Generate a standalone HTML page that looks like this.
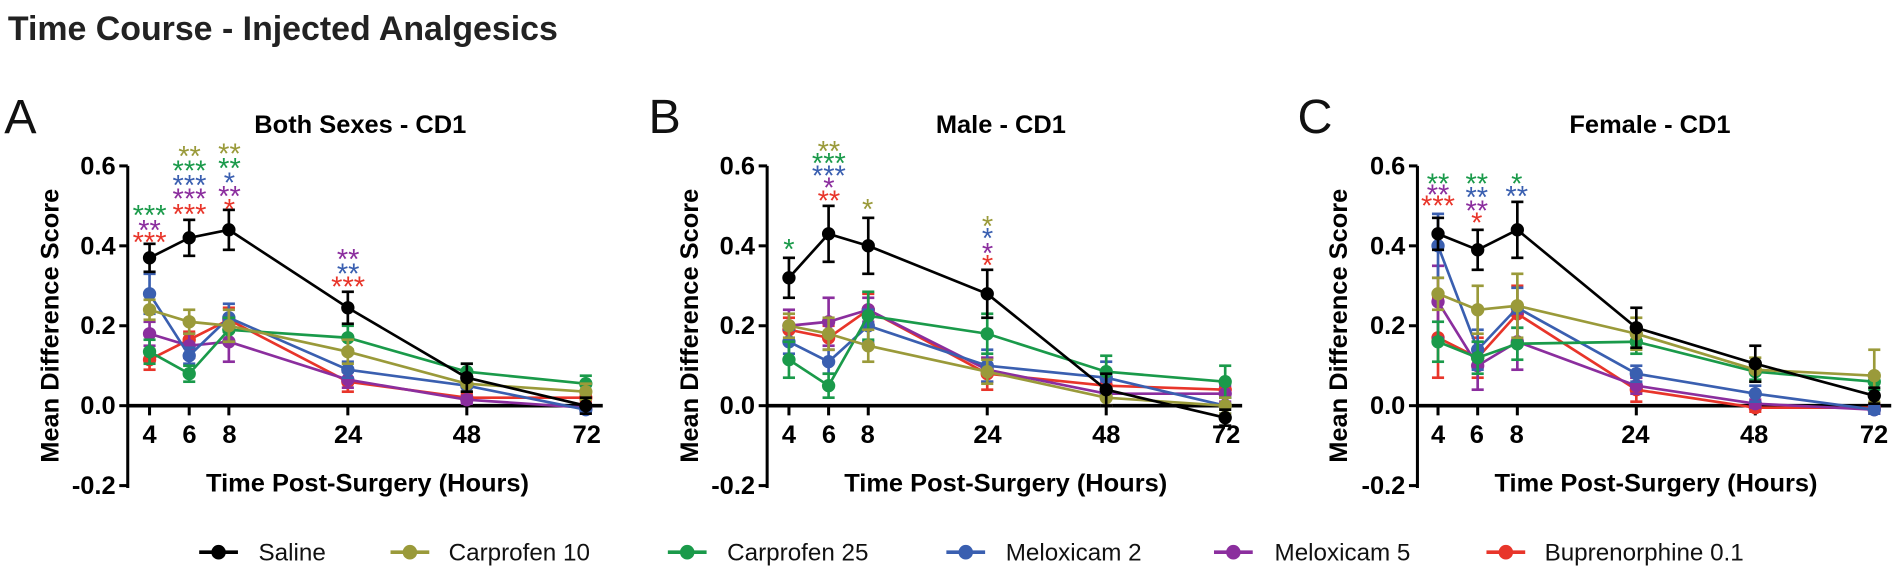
<!DOCTYPE html>
<html><head><meta charset="utf-8"><style>
body{margin:0;background:#fff;width:1900px;height:574px;overflow:hidden}
svg{display:block;font-family:"Liberation Sans",sans-serif}
.t{font-weight:bold;font-size:21px}
.st{font-size:24px;text-anchor:middle;letter-spacing:0px}
</style></head><body>
<svg id="s" width="1900" height="574" viewBox="0 0 1568 474">
<text x="6" y="33" font-size="28" font-weight="bold" fill="#222">Time Course - Injected Analgesics</text>
<text x="3" y="110" font-size="40" fill="#111">A</text>
<text x="535" y="110" font-size="40" fill="#111">B</text>
<text x="1071" y="110" font-size="40" fill="#111">C</text>
<text x="297" y="110" class="t" text-anchor="middle">Both Sexes - CD1</text>
<text x="826" y="110" class="t" text-anchor="middle">Male - CD1</text>
<text x="1362" y="110" class="t" text-anchor="middle">Female - CD1</text>
<g id="axes"></g>
<g id="ser"></g>
<g class="t" text-anchor="middle">
<text transform="translate(48,269) rotate(-90)">Mean Difference Score</text>
<text transform="translate(576,269) rotate(-90)">Mean Difference Score</text>
<text transform="translate(1112,269) rotate(-90)">Mean Difference Score</text>
<text x="303" y="406">Time Post-Surgery (Hours)</text>
<text x="830" y="406">Time Post-Surgery (Hours)</text>
<text x="1367" y="406">Time Post-Surgery (Hours)</text>
</g>
<g class="t" text-anchor="end">
<text x="95" y="144">0.6</text><text x="95" y="210">0.4</text><text x="95" y="276">0.2</text><text x="95" y="342">0.0</text><text x="95" y="408">-0.2</text>
<text x="623" y="144">0.6</text><text x="623" y="210">0.4</text><text x="623" y="276">0.2</text><text x="623" y="342">0.0</text><text x="623" y="408">-0.2</text>
<text x="1160" y="144">0.6</text><text x="1160" y="210">0.4</text><text x="1160" y="276">0.2</text><text x="1160" y="342">0.0</text><text x="1160" y="408">-0.2</text>
</g>
<g class="t" text-anchor="middle">
<text x="123" y="366">4</text><text x="156" y="366">6</text><text x="189" y="366">8</text><text x="287" y="366">24</text><text x="385" y="366">48</text><text x="484" y="366">72</text>
<text x="651" y="366">4</text><text x="684" y="366">6</text><text x="716" y="366">8</text><text x="815" y="366">24</text><text x="913" y="366">48</text><text x="1012" y="366">72</text>
<text x="1187" y="366">4</text><text x="1219" y="366">6</text><text x="1252" y="366">8</text><text x="1350" y="366">24</text><text x="1448" y="366">48</text><text x="1547" y="366">72</text>
</g>
<g class="st">
<text x="123" y="186" fill="#1a9a4a">***</text><text x="123" y="198" fill="#8b2e9e">**</text><text x="123" y="208" fill="#e8352a">***</text>
<text x="156" y="137" fill="#9a9a3a">**</text><text x="156" y="149" fill="#1a9a4a">***</text><text x="156" y="161" fill="#3a5fb0">***</text><text x="156" y="172" fill="#8b2e9e">***</text><text x="156" y="185" fill="#e8352a">***</text>
<text x="189" y="135" fill="#9a9a3a">**</text><text x="189" y="147" fill="#1a9a4a">**</text><text x="189" y="159" fill="#3a5fb0">*</text><text x="189" y="170" fill="#8b2e9e">**</text><text x="189" y="181" fill="#e8352a">*</text>
<text x="287" y="222" fill="#8b2e9e">**</text><text x="287" y="234" fill="#3a5fb0">**</text><text x="287" y="245" fill="#e8352a">***</text>
<text x="651" y="214" fill="#1a9a4a">*</text>
<text x="684" y="133" fill="#9a9a3a">**</text><text x="684" y="143" fill="#1a9a4a">***</text><text x="684" y="153" fill="#3a5fb0">***</text><text x="684" y="163" fill="#8b2e9e">*</text><text x="684" y="174" fill="#e8352a">**</text>
<text x="716" y="181" fill="#9a9a3a">*</text>
<text x="815" y="195" fill="#9a9a3a">*</text><text x="815" y="205" fill="#3a5fb0">*</text><text x="815" y="217" fill="#8b2e9e">*</text><text x="815" y="227" fill="#e8352a">*</text>
<text x="1187" y="160" fill="#1a9a4a">**</text><text x="1187" y="169" fill="#8b2e9e">**</text><text x="1187" y="178" fill="#e8352a">***</text>
<text x="1219" y="160" fill="#1a9a4a">**</text><text x="1219" y="171" fill="#3a5fb0">**</text><text x="1219" y="182" fill="#8b2e9e">**</text><text x="1219" y="192" fill="#e8352a">*</text>
<text x="1252" y="160" fill="#1a9a4a">*</text><text x="1252" y="170" fill="#3a5fb0">**</text>
</g>
<g font-size="20" fill="#111">
<line x1="164" y1="456" x2="196" y2="456" stroke="#000" stroke-width="3"/><circle cx="180" cy="456" r="6" fill="#000"/><text x="213" y="463">Saline</text>
<line x1="322" y1="456" x2="354" y2="456" stroke="#9a9a3a" stroke-width="3"/><circle cx="338" cy="456" r="6" fill="#9a9a3a"/><text x="370" y="463">Carprofen 10</text>
<line x1="551" y1="456" x2="583" y2="456" stroke="#1a9a4a" stroke-width="3"/><circle cx="567" cy="456" r="6" fill="#1a9a4a"/><text x="600" y="463">Carprofen 25</text>
<line x1="781" y1="456" x2="813" y2="456" stroke="#3a5fb0" stroke-width="3"/><circle cx="797" cy="456" r="6" fill="#3a5fb0"/><text x="830" y="463">Meloxicam 2</text>
<line x1="1002" y1="456" x2="1034" y2="456" stroke="#8b2e9e" stroke-width="3"/><circle cx="1018" cy="456" r="6" fill="#8b2e9e"/><text x="1052" y="463">Meloxicam 5</text>
<line x1="1227" y1="456" x2="1259" y2="456" stroke="#e8352a" stroke-width="3"/><circle cx="1243" cy="456" r="6" fill="#e8352a"/><text x="1275" y="463">Buprenorphine 0.1</text>
</g>
</svg>
<script>
const NS="http://www.w3.org/2000/svg";
function el(p,t,a){const e=document.createElementNS(NS,t);for(const k in a)e.setAttribute(k,a[k]);p.appendChild(e);return e;}
const ax=document.getElementById('axes'),sr=document.getElementById('ser');
const idx=[0,1,2,5,8,11],U=32.75,Y=v=>335-v*330;
const cols=["#e8352a","#8b2e9e","#3a5fb0","#1a9a4a","#9a9a3a","#000"];
const panels=[
 {x0:123,ax:105,d:[
  [[0.115,.025],[0.165,.02],[0.215,.03],[0.06,.025],[0.02,.01],[0.02,.01]],
  [[0.18,.03],[0.15,.03],[0.16,.05],[0.065,.02],[0.015,.01],[-0.005,.01]],
  [[0.28,.05],[0.125,.02],[0.22,.035],[0.09,.02],[0.05,.015],[-0.01,.01]],
  [[0.135,.03],[0.08,.02],[0.19,.03],[0.17,.03],[0.085,.02],[0.055,.02]],
  [[0.24,.025],[0.21,.03],[0.20,.04],[0.135,.03],[0.055,.02],[0.035,.02]],
  [[0.37,.035],[0.42,.045],[0.44,.05],[0.245,.04],[0.07,.035],[0.0,.02]]]},
 {x0:651,ax:633,d:[
  [[0.19,.03],[0.17,.03],[0.24,.04],[0.08,.04],[0.05,.03],[0.04,.02]],
  [[0.20,.04],[0.21,.06],[0.24,.03],[0.09,.03],[0.03,.03],[0.03,.02]],
  [[0.16,.03],[0.11,.03],[0.20,.04],[0.10,.04],[0.07,.04],[0.0,.02]],
  [[0.115,.045],[0.05,.03],[0.225,.06],[0.18,.05],[0.085,.04],[0.06,.04]],
  [[0.20,.03],[0.18,.04],[0.15,.04],[0.085,.03],[0.02,.02],[0.0,.02]],
  [[0.32,.05],[0.43,.07],[0.40,.07],[0.28,.06],[0.04,.04],[-0.03,.02]]]},
 {x0:1187,ax:1170,d:[
  [[0.17,.1],[0.12,.05],[0.23,.07],[0.04,.03],[-0.005,.01],[-0.005,.01]],
  [[0.26,.09],[0.10,.06],[0.16,.07],[0.05,.02],[0.005,.01],[-0.01,.01]],
  [[0.40,.08],[0.14,.05],[0.245,.05],[0.08,.02],[0.03,.02],[-0.01,.01]],
  [[0.16,.05],[0.12,.04],[0.155,.04],[0.16,.03],[0.085,.02],[0.06,.02]],
  [[0.28,.04],[0.24,.06],[0.25,.08],[0.18,.04],[0.09,.03],[0.075,.065]],
  [[0.43,.04],[0.39,.05],[0.44,.07],[0.195,.05],[0.105,.045],[0.025,.02]]]}];
panels.forEach(p=>{
 el(ax,'line',{x1:p.ax,y1:137,x2:p.ax,y2:403,stroke:'#000','stroke-width':2.5});
 el(ax,'line',{x1:p.ax,y1:335,x2:p.x0+11*U+14,y2:335,stroke:'#000','stroke-width':3});
 [137,203,269,335,401].forEach(y=>el(ax,'line',{x1:p.ax-7,y1:y,x2:p.ax,y2:y,stroke:'#000','stroke-width':2.5}));
 idx.forEach(i=>el(ax,'line',{x1:p.x0+i*U,y1:335,x2:p.x0+i*U,y2:343,stroke:'#000','stroke-width':2.5}));
 p.d.forEach((s,si)=>{
  const c=cols[si];const pts=s.map((v,k)=>[p.x0+idx[k]*U,Y(v[0])]);
  el(sr,'polyline',{points:pts.map(q=>q.join(',')).join(' '),fill:'none',stroke:c,'stroke-width':2.2});
  s.forEach((v,k)=>{const x=pts[k][0],a=Y(v[0]+v[1]),b=Y(v[0]-v[1]);
   el(sr,'line',{x1:x,y1:a,x2:x,y2:b,stroke:c,'stroke-width':2.2});
   el(sr,'line',{x1:x-5,y1:a,x2:x+5,y2:a,stroke:c,'stroke-width':2.2});
   el(sr,'line',{x1:x-5,y1:b,x2:x+5,y2:b,stroke:c,'stroke-width':2.2});
   el(sr,'circle',{cx:x,cy:pts[k][1],r:5.5,fill:c});});
 });
});
</script>
</body></html>
